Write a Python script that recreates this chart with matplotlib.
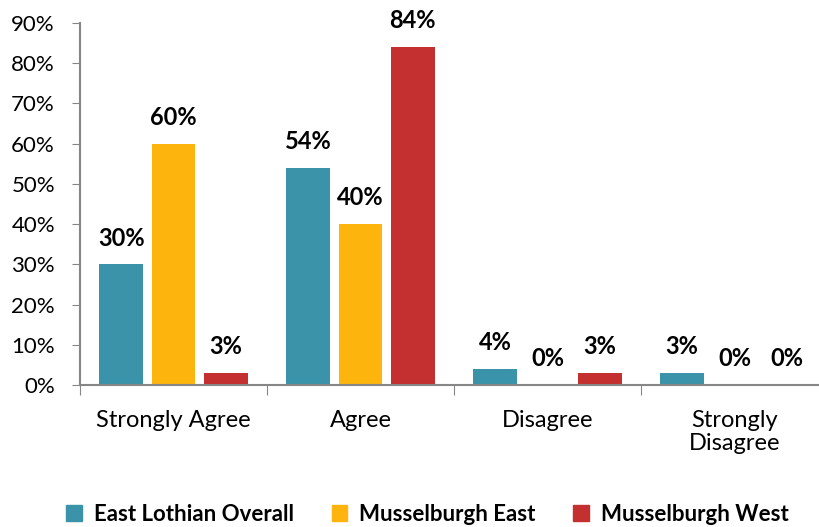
import numpy as np
import matplotlib
matplotlib.use("Agg")
import matplotlib.pyplot as plt
from matplotlib.patches import Patch

plt.rcParams['font.family'] = ['Lato', 'DejaVu Sans']

# data
categories = ['Strongly Agree', 'Agree', 'Disagree', 'Strongly\nDisagree']
series = ['East Lothian Overall', 'Musselburgh East', 'Musselburgh West']
east_lothian = [30, 54, 4, 3]
mussel_east = [60, 40, 0, 0]
mussel_west = [3, 84, 3, 0]
colors = ['#3A93A8', '#FDB50E', '#C42F2F']

fig = plt.figure(figsize=(8.19, 5.27), dpi=100)
ax = fig.add_axes([80/819, 142/527, 748/819, 362/527])

x = np.arange(len(categories))
w = 0.232
offs = [-0.28, 0, 0.28]
for vals, off, c in zip([east_lothian, mussel_east, mussel_west], offs, colors):
    bars = ax.bar(x + off, vals, w, color=c)
    for b, v in zip(bars, vals):
        ax.annotate(f'{v}%', (b.get_x() + b.get_width()/2, v), xytext=(0, 13.5),
                    textcoords='offset points', ha='center', va='baseline',
                    fontsize=17, fontweight='bold')

ax.set_xlim(-0.5, 3.5)
ax.set_ylim(0, 90)
ax.set_yticks(range(0, 91, 10))
ax.set_yticklabels([f'{t}%' for t in range(0, 91, 10)], fontsize=16)
ax.tick_params(axis='y', direction='out', length=6, color='#868686', pad=12)

# category labels between boundary ticks
ax.set_xticks(np.arange(-0.5, 4, 1))
ax.set_xticklabels([])
ax.tick_params(axis='x', direction='out', length=7, color='#868686')
for xi, lab in zip(x, categories):
    ax.text(xi, -6.2, lab, ha='center', va='top', fontsize=17, linespacing=1.15)

for s in ['top', 'right']:
    ax.spines[s].set_visible(False)
for s in ['left', 'bottom']:
    ax.spines[s].set_color('#868686')
    ax.spines[s].set_linewidth(1.5)

handles = [Patch(color=c) for c in colors]
fig.legend(handles, series, loc='center', bbox_to_anchor=(0.522, 0.024), ncol=3,
           frameon=False, prop={'size': 16, 'weight': 'bold'},
           handlelength=0.7, handleheight=0.7, handletextpad=0.55, columnspacing=1.7)

fig.savefig('out.png', dpi=100)
